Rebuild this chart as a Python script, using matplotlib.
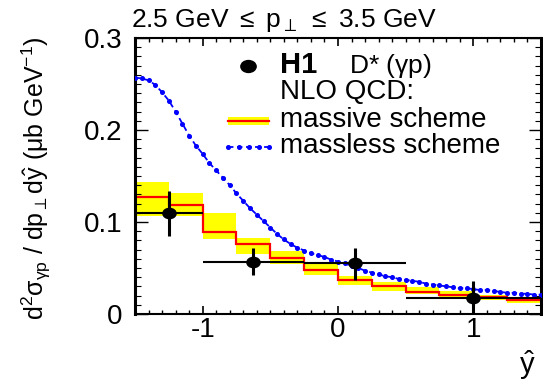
import numpy as np
import matplotlib
matplotlib.use('Agg')
import matplotlib.pyplot as plt
from matplotlib.ticker import MultipleLocator, FixedLocator, FixedFormatter
from matplotlib.lines import Line2D
from matplotlib.patches import Rectangle
from matplotlib.path import Path
from matplotlib.transforms import Affine2D

plt.rcParams.update({
    'font.family': 'Liberation Sans',
    'mathtext.fontset': 'custom',
    'mathtext.rm': 'Liberation Sans',
    'mathtext.it': 'Liberation Sans',
    'mathtext.bf': 'Liberation Sans:bold',
    'mathtext.sf': 'Liberation Sans',
    'axes.unicode_minus': False,
})

# H1 D* photoproduction, 2.5 < pt < 3.5 GeV
h1_y = [-1.25, -0.625, 0.125, 1.0]
h1_y_lo = [-1.5, -1.0, -0.25, 0.5]
h1_y_hi = [-1.0, -0.25, 0.5, 1.5]
h1_xsec = [0.110, 0.056, 0.055, 0.017]
h1_err_up = [0.024, 0.016, 0.017, 0.019]
h1_err_dn = [0.025, 0.014, 0.018, 0.017]

# NLO massive scheme (binned), central value and uncertainty band
nlo_edges = [-1.5, -1.25, -1.0, -0.75, -0.5, -0.25, 0.0, 0.25, 0.5, 0.75, 1.0, 1.25, 1.5]
massive_central = [0.127, 0.118, 0.089, 0.076, 0.061, 0.048, 0.037, 0.030, 0.024, 0.021, 0.018, 0.015]
massive_hi = [0.144, 0.132, 0.110, 0.083, 0.068, 0.055, 0.041, 0.035, 0.029, 0.025, 0.021, 0.017]
massive_lo = [0.106, 0.106, 0.082, 0.065, 0.054, 0.042, 0.032, 0.025, 0.022, 0.019, 0.015, 0.012]

# NLO massless scheme curve
massless_y = [-1.50, -1.45, -1.40, -1.35, -1.30, -1.25, -1.20, -1.15, -1.10, -1.05,
              -1.00, -0.95, -0.90, -0.85, -0.80, -0.75, -0.70, -0.65, -0.60, -0.55,
              -0.50, -0.45, -0.40, -0.35, -0.30, -0.25, -0.20, -0.15, -0.10, -0.05,
              0.00, 0.05, 0.10, 0.15, 0.20, 0.25, 0.30, 0.35, 0.40, 0.45,
              0.50, 0.55, 0.60, 0.65, 0.70, 0.75, 0.80, 0.85, 0.90, 0.95,
              1.00, 1.05, 1.10, 1.15, 1.20, 1.25, 1.30, 1.35, 1.40, 1.45, 1.50]
massless_xsec = [0.257, 0.256, 0.254, 0.249, 0.241, 0.232, 0.220, 0.207, 0.194, 0.183,
                 0.174, 0.164, 0.156, 0.148, 0.140, 0.131, 0.123, 0.115, 0.108, 0.101,
                 0.094, 0.087, 0.081, 0.076, 0.072, 0.069, 0.066, 0.064, 0.062, 0.059,
                 0.057, 0.055, 0.052, 0.050, 0.047, 0.045, 0.043, 0.041, 0.040, 0.038,
                 0.037, 0.036, 0.035, 0.033, 0.032, 0.031, 0.030, 0.029, 0.028, 0.028,
                 0.027, 0.026, 0.026, 0.025, 0.024, 0.023, 0.023, 0.022, 0.022, 0.021, 0.021]

# slightly wide dot, like the ROOT full circle on a stretched canvas
wide_dot = Path.unit_circle().transformed(Affine2D().scale(1.0, 0.78))

fig = plt.figure(figsize=(5.43, 3.83), dpi=100)
ax = fig.add_axes([0.2486, 0.1802, 0.7477, 0.7206])

edges = np.array(nlo_edges)
lo = np.array(massive_lo)
hi = np.array(massive_hi)
ax.bar(edges[:-1], hi - lo, width=np.diff(edges), bottom=lo, align='edge',
       color='#ffff00', linewidth=0, zorder=1)
ax.stairs(massive_central, edges, color='#ff0000', linewidth=1.6, baseline=None, zorder=2)
ax.plot(massless_y, massless_xsec, color='#0000ff', linestyle='--', dashes=(3, 2),
        linewidth=1.3, marker='o', markersize=2.6, zorder=3)

xerr = [np.array(h1_y) - np.array(h1_y_lo), np.array(h1_y_hi) - np.array(h1_y)]
ax.errorbar(h1_y, h1_xsec, xerr=xerr, fmt='none', ecolor='black',
            elinewidth=1.5, capsize=0, zorder=4)
ax.errorbar(h1_y, h1_xsec, yerr=[h1_err_dn, h1_err_up], fmt='none', ecolor='black',
            elinewidth=2.2, capsize=0, zorder=4)
ax.plot(h1_y, h1_xsec, linestyle='none', marker=wide_dot, markersize=9.5,
        color='black', zorder=5)

ax.set_xlim(-1.5, 1.5)
ax.set_ylim(0, 0.3)
ax.xaxis.set_major_locator(FixedLocator([-1, 0, 1]))
ax.xaxis.set_major_formatter(FixedFormatter(['-1', '0', '1']))
ax.xaxis.set_minor_locator(MultipleLocator(0.1))
ax.yaxis.set_major_locator(FixedLocator([0, 0.1, 0.2, 0.3]))
ax.yaxis.set_major_formatter(FixedFormatter(['0', '0.1', '0.2', '0.3']))
ax.yaxis.set_minor_locator(MultipleLocator(0.01))
ax.tick_params(which='both', direction='in', top=True, right=True, labelsize=20)
ax.tick_params(axis='x', which='major', length=6, width=1.2, pad=2)
ax.tick_params(axis='x', which='minor', length=3, width=1.0)
ax.tick_params(axis='y', which='major', length=9, width=1.0, pad=9)
ax.tick_params(axis='y', which='minor', length=4.5, width=0.8)
ax.spines['left'].set_linewidth(2.2)
ax.spines['right'].set_linewidth(2.2)
ax.spines['top'].set_linewidth(1.5)
ax.spines['bottom'].set_linewidth(1.5)

# legend drawn by hand
tr = ax.transAxes
ax.add_line(Line2D([0.278], [0.899], transform=tr, marker=wide_dot, markersize=11,
                   color='black', linestyle='none'))
ax.text(0.357, 0.874, 'H1', transform=tr, fontsize=21, fontweight='bold', va='baseline')
ax.text(0.526, 0.874, r'D* ($\gamma$p)', transform=tr, fontsize=19, va='baseline')
ax.text(0.357, 0.778, 'NLO QCD:', transform=tr, fontsize=20, va='baseline')
ax.add_patch(Rectangle((0.230, 0.684), 0.100, 0.030, transform=tr,
                       facecolor='#ffff00', edgecolor='none'))
ax.add_line(Line2D([0.230, 0.330], [0.699, 0.699], transform=tr, color='#ff0000', lw=1.6))
ax.text(0.357, 0.678, 'massive scheme', transform=tr, fontsize=20, va='baseline')
ax.add_line(Line2D([0.230, 0.255, 0.280, 0.305, 0.330], [0.604] * 5, transform=tr,
                   color='#0000ff', linestyle='--', dashes=(3, 2), lw=1.3,
                   marker='o', markersize=2.6))
ax.text(0.357, 0.584, 'massless scheme', transform=tr, fontsize=20, va='baseline')

fig.text(131 / 543, 1 - 27 / 383, r'2.5 GeV $\leq$ p$_{\perp}$ $\leq$ 3.5 GeV',
         fontsize=19, va='baseline', ha='left')
fig.text(36 / 543, 0.535,
         r'd$^2\sigma_{\gamma p}$ / dp$_{\perp}$d$\hat{y}$ ($\mu$b GeV$^{-1}$)',
         fontsize=18, rotation=90, va='center', ha='center')
fig.text(527 / 543, 1 - 365 / 383, r'$\hat{y}$', fontsize=21, va='center', ha='center')

fig.savefig('out.png', dpi=100)
